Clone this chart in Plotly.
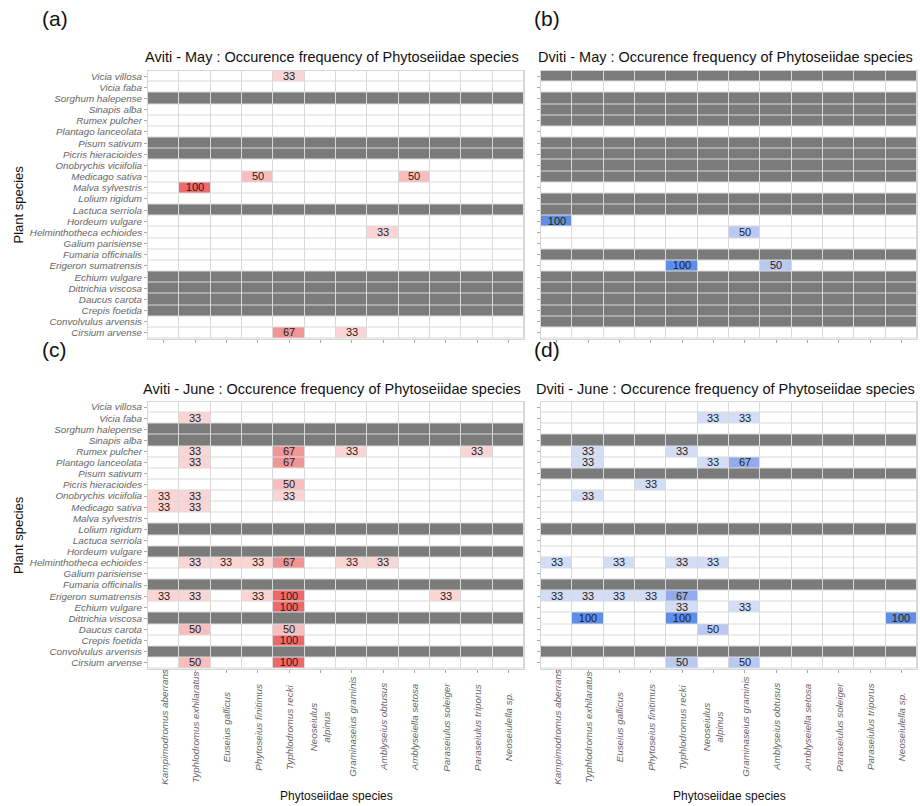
import plotly.graph_objects as go

plants = ["Vicia villosa", "Vicia faba", "Sorghum halepense", "Sinapis alba",
          "Rumex pulcher", "Plantago lanceolata", "Pisum sativum", "Picris hieracioides",
          "Onobrychis viciifolia", "Medicago sativa", "Malva sylvestris", "Lolium rigidum",
          "Lactuca serriola", "Hordeum vulgare", "Helminthotheca echioides", "Galium parisiense",
          "Fumaria officinalis", "Erigeron sumatrensis", "Echium vulgare", "Dittrichia viscosa",
          "Daucus carota", "Crepis foetida", "Convolvulus arvensis", "Cirsium arvense"]

mites = ["Kampimodromus aberrans", "Typhlodromus exhilaratus", "Euseius gallicus",
         "Phytoseius finitimus", "Typhlodromus recki", "Neoseiulus<br>alpinus",
         "Graminaseius graminis", "Amblyseius obtusus", "Amblyseiella setosa",
         "Paraseiulus soleiger", "Paraseiulus triporus", "Neoseiulella sp."]

NA = None
# rows follow `plants`; None = plant not sampled (grey)
aviti_may = [
    [0, 0, 0, 0, 33, 0, 0, 0, 0, 0, 0, 0],
    [0, 0, 0, 0, 0, 0, 0, 0, 0, 0, 0, 0],
    NA,
    [0, 0, 0, 0, 0, 0, 0, 0, 0, 0, 0, 0],
    [0, 0, 0, 0, 0, 0, 0, 0, 0, 0, 0, 0],
    [0, 0, 0, 0, 0, 0, 0, 0, 0, 0, 0, 0],
    NA,
    NA,
    [0, 0, 0, 0, 0, 0, 0, 0, 0, 0, 0, 0],
    [0, 0, 0, 50, 0, 0, 0, 0, 50, 0, 0, 0],
    [0, 100, 0, 0, 0, 0, 0, 0, 0, 0, 0, 0],
    [0, 0, 0, 0, 0, 0, 0, 0, 0, 0, 0, 0],
    NA,
    [0, 0, 0, 0, 0, 0, 0, 0, 0, 0, 0, 0],
    [0, 0, 0, 0, 0, 0, 0, 33, 0, 0, 0, 0],
    [0, 0, 0, 0, 0, 0, 0, 0, 0, 0, 0, 0],
    [0, 0, 0, 0, 0, 0, 0, 0, 0, 0, 0, 0],
    [0, 0, 0, 0, 0, 0, 0, 0, 0, 0, 0, 0],
    NA,
    NA,
    NA,
    NA,
    [0, 0, 0, 0, 0, 0, 0, 0, 0, 0, 0, 0],
    [0, 0, 0, 0, 67, 0, 33, 0, 0, 0, 0, 0],
]

dviti_may = [
    NA,
    [0, 0, 0, 0, 0, 0, 0, 0, 0, 0, 0, 0],
    NA,
    NA,
    NA,
    [0, 0, 0, 0, 0, 0, 0, 0, 0, 0, 0, 0],
    NA,
    NA,
    NA,
    NA,
    [0, 0, 0, 0, 0, 0, 0, 0, 0, 0, 0, 0],
    NA,
    NA,
    [100, 0, 0, 0, 0, 0, 0, 0, 0, 0, 0, 0],
    [0, 0, 0, 0, 0, 0, 50, 0, 0, 0, 0, 0],
    [0, 0, 0, 0, 0, 0, 0, 0, 0, 0, 0, 0],
    NA,
    [0, 0, 0, 0, 100, 0, 0, 50, 0, 0, 0, 0],
    NA,
    NA,
    NA,
    NA,
    NA,
    [0, 0, 0, 0, 0, 0, 0, 0, 0, 0, 0, 0],
]

aviti_june = [
    [0, 0, 0, 0, 0, 0, 0, 0, 0, 0, 0, 0],
    [0, 33, 0, 0, 0, 0, 0, 0, 0, 0, 0, 0],
    NA,
    NA,
    [0, 33, 0, 0, 67, 0, 33, 0, 0, 0, 33, 0],
    [0, 33, 0, 0, 67, 0, 0, 0, 0, 0, 0, 0],
    [0, 0, 0, 0, 0, 0, 0, 0, 0, 0, 0, 0],
    [0, 0, 0, 0, 50, 0, 0, 0, 0, 0, 0, 0],
    [33, 33, 0, 0, 33, 0, 0, 0, 0, 0, 0, 0],
    [33, 33, 0, 0, 0, 0, 0, 0, 0, 0, 0, 0],
    [0, 0, 0, 0, 0, 0, 0, 0, 0, 0, 0, 0],
    NA,
    [0, 0, 0, 0, 0, 0, 0, 0, 0, 0, 0, 0],
    NA,
    [0, 33, 33, 33, 67, 0, 33, 33, 0, 0, 0, 0],
    [0, 0, 0, 0, 0, 0, 0, 0, 0, 0, 0, 0],
    NA,
    [33, 33, 0, 33, 100, 0, 0, 0, 0, 33, 0, 0],
    [0, 0, 0, 0, 100, 0, 0, 0, 0, 0, 0, 0],
    NA,
    [0, 50, 0, 0, 50, 0, 0, 0, 0, 0, 0, 0],
    [0, 0, 0, 0, 100, 0, 0, 0, 0, 0, 0, 0],
    NA,
    [0, 50, 0, 0, 100, 0, 0, 0, 0, 0, 0, 0],
]

dviti_june = [
    [0, 0, 0, 0, 0, 0, 0, 0, 0, 0, 0, 0],
    [0, 0, 0, 0, 0, 33, 33, 0, 0, 0, 0, 0],
    [0, 0, 0, 0, 0, 0, 0, 0, 0, 0, 0, 0],
    NA,
    [0, 33, 0, 0, 33, 0, 0, 0, 0, 0, 0, 0],
    [0, 33, 0, 0, 0, 33, 67, 0, 0, 0, 0, 0],
    NA,
    [0, 0, 0, 33, 0, 0, 0, 0, 0, 0, 0, 0],
    [0, 33, 0, 0, 0, 0, 0, 0, 0, 0, 0, 0],
    [0, 0, 0, 0, 0, 0, 0, 0, 0, 0, 0, 0],
    [0, 0, 0, 0, 0, 0, 0, 0, 0, 0, 0, 0],
    NA,
    [0, 0, 0, 0, 0, 0, 0, 0, 0, 0, 0, 0],
    [0, 0, 0, 0, 0, 0, 0, 0, 0, 0, 0, 0],
    [33, 0, 33, 0, 33, 33, 0, 0, 0, 0, 0, 0],
    [0, 0, 0, 0, 0, 0, 0, 0, 0, 0, 0, 0],
    NA,
    [33, 33, 33, 33, 67, 0, 0, 0, 0, 0, 0, 0],
    [0, 0, 0, 0, 33, 0, 33, 0, 0, 0, 0, 0],
    [0, 100, 0, 0, 100, 0, 0, 0, 0, 0, 0, 100],
    [0, 0, 0, 0, 0, 50, 0, 0, 0, 0, 0, 0],
    [0, 0, 0, 0, 0, 0, 0, 0, 0, 0, 0, 0],
    NA,
    [0, 0, 0, 0, 50, 0, 50, 0, 0, 0, 0, 0],
]

titles = ["Aviti - May : Occurence frequency of Phytoseiidae species",
          "Dviti - May : Occurence frequency of Phytoseiidae species",
          "Aviti - June : Occurence frequency of Phytoseiidae species",
          "Dviti - June : Occurence frequency of Phytoseiidae species"]
panel_labels = ["(a)", "(b)", "(c)", "(d)"]

reds = [[0, "#ffffff"], [0.33, "#fbd4d4"], [0.5, "#f8bdbd"], [0.67, "#f39595"], [1, "#ee6a6a"]]
blues = [[0, "#ffffff"], [0.33, "#d3ddf6"], [0.5, "#b9c9f3"], [0.67, "#93abec"], [1, "#5f8ee6"]]
grey_na = "#7b7b7b"

W, H = 920, 806


def px(x):
    return x / W


def py(y):
    return 1 - y / H


# target pixel geometry of panels (left, right, top, bottom)
panels_px = [(148, 524, 70.5, 338.5), (541, 917, 70.5, 338.5),
             (148, 524, 401.5, 668.5), (541, 917, 401.5, 668.5)]

datasets = [aviti_may, dviti_may, aviti_june, dviti_june]
scales = [reds, blues, reds, blues]

FONT = "Arial, Liberation Sans, sans-serif"
fig = go.Figure()
layout = dict(width=W, height=H, margin=dict(l=0, r=0, t=0, b=0),
              paper_bgcolor="white", showlegend=False, font=dict(family=FONT))
annotations = []
xs = list(range(len(mites)))
ys = list(range(len(plants)))

for i, (data, cs, (l, r, t, b)) in enumerate(zip(datasets, scales, panels_px)):
    xa = "x" if i == 0 else f"x{i+1}"
    ya = "y" if i == 0 else f"y{i+1}"
    na_z = [[1] * len(mites) if row is None else [None] * len(mites) for row in data]
    val_z = [[None] * len(mites) if row is None else row for row in data]
    txt = [["" if (row is None or v == 0) else str(v) for v in (row or [0] * len(mites))] for row in data]
    fig.add_trace(go.Heatmap(x=xs, y=ys, z=na_z, colorscale=[[0, grey_na], [1, grey_na]],
                             showscale=False, xgap=1, ygap=1, xaxis=xa, yaxis=ya,
                             hoverinfo="skip"))
    fig.add_trace(go.Heatmap(x=xs, y=ys, z=val_z, colorscale=cs, zmin=0, zmax=100,
                             showscale=False, xgap=1, ygap=1, xaxis=xa, yaxis=ya,
                             text=txt, texttemplate="%{text}",
                             textfont=dict(size=11, color="#222222", family=FONT)))
    xdom = [px(l), px(r)]
    ydom = [py(b), py(t)]
    bottom = i >= 2
    left = i % 2 == 0
    xkey = "xaxis" if i == 0 else f"xaxis{i+1}"
    ykey = "yaxis" if i == 0 else f"yaxis{i+1}"
    layout[xkey] = dict(domain=xdom, anchor=ya, range=[-0.5, len(mites) - 0.5],
                        tickmode="array", tickvals=xs, showticklabels=False,
                        ticks="outside", ticklen=3, tickcolor="#aaaaaa",
                        showgrid=False, zeroline=False, showline=True, mirror=True,
                        linecolor="#d6d6d6", linewidth=1, fixedrange=True)
    layout[ykey] = dict(domain=ydom, anchor=xa, range=[len(plants) - 0.5, -0.5],
                        tickmode="array", tickvals=ys,
                        ticktext=[f"<i>{p}</i>" for p in plants],
                        showticklabels=left,
                        tickfont=dict(size=9.8, color="#666666", family=FONT),
                        ticks="outside", ticklen=3, tickcolor="#aaaaaa",
                        showgrid=False, zeroline=False, showline=True, mirror=True,
                        linecolor="#d6d6d6", linewidth=1, fixedrange=True)
    # panel title
    annotations.append(dict(text=titles[i], x=px((l + r) / 2 - 4), y=py(t - 13),
                            xref="paper", yref="paper", xanchor="center", yanchor="middle",
                            showarrow=False, font=dict(size=14.5, color="#111111", family=FONT)))
    # panel letter
    lx = 40 if left else 532
    annotations.append(dict(text=panel_labels[i], x=px(lx), y=py(t - 52),
                            xref="paper", yref="paper", xanchor="left", yanchor="middle",
                            showarrow=False, font=dict(size=21, color="#111111", family=FONT)))
    if left:
        annotations.append(dict(text="Plant species", x=px(18), y=py((t + b) / 2),
                                xref="paper", yref="paper", xanchor="center", yanchor="middle",
                                textangle=-90, showarrow=False,
                                font=dict(size=13, color="#111111", family=FONT)))
    if bottom:
        annotations.append(dict(text="Phytoseiidae species", x=px((l + r) / 2), y=py(796),
                                xref="paper", yref="paper", xanchor="center", yanchor="middle",
                                showarrow=False, font=dict(size=12, color="#111111", family=FONT)))
        # species labels below the panel, rotated and centred
        cw = (r - l) / len(mites)
        for j, m in enumerate(mites):
            annotations.append(dict(text=f"<i>{m}</i>", x=px(l + cw * (j + 0.5)), y=py(727),
                                    xref="paper", yref="paper", xanchor="center",
                                    yanchor="middle", textangle=-90, showarrow=False,
                                    font=dict(size=9.8, color="#666666", family=FONT)))

layout["annotations"] = annotations
layout["plot_bgcolor"] = "#d9d9d9"
fig.update_layout(**layout)
fig.write_html("out.html", config={"displayModeBar": False},
               post_script="document.body.style.margin='0';"
                           "document.body.style.overflow='hidden';")
